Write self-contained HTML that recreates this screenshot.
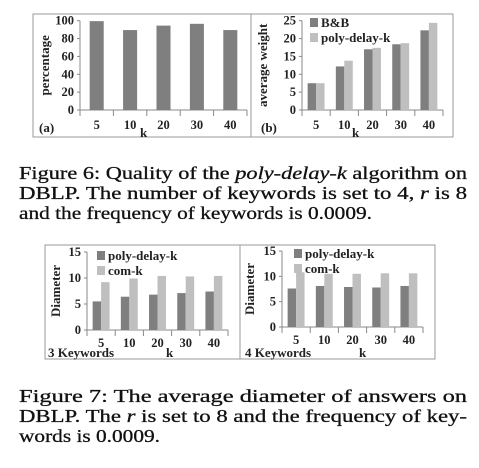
<!DOCTYPE html>
<html><head><meta charset="utf-8"><style>
html,body{margin:0;padding:0;background:#fff}
svg{display:block}
text{font-family:"Liberation Serif","DejaVu Serif",serif}
.ax{font-weight:bold;font-size:12.5px;fill:#222}
.cap{font-family:"Liberation Serif","DejaVu Serif",serif;font-size:18px;fill:#111;stroke:#111;stroke-width:0.3}
</style></head><body>
<svg id="s" width="479" height="468" viewBox="0 0 479 468">
<rect x="33" y="14" width="420" height="123" fill="none" stroke="#999"/>
<line x1="251" y1="14" x2="251" y2="137" stroke="#999"/>
<rect x="45" y="245" width="390" height="114" fill="none" stroke="#999"/>
<line x1="240" y1="245" x2="240" y2="359" stroke="#999"/>
<g id="charts"></g>
<g>
<text class="cap" x="19" y="179" textLength="448" lengthAdjust="spacingAndGlyphs">Figure 6: Quality of the <tspan font-style="italic">poly-delay-k</tspan> algorithm on</text>
<text class="cap" x="19" y="199" textLength="448" lengthAdjust="spacingAndGlyphs">DBLP. The number of keywords is set to 4, <tspan font-style="italic">r</tspan> is 8</text>
<text class="cap" x="19" y="219" textLength="353" lengthAdjust="spacingAndGlyphs">and the frequency of keywords is 0.0009.</text>
</g>
<g>
<text class="cap" x="19" y="402" textLength="448" lengthAdjust="spacingAndGlyphs">Figure 7: The average diameter of answers on</text>
<text class="cap" x="19" y="422" textLength="448" lengthAdjust="spacingAndGlyphs">DBLP. The <tspan font-style="italic">r</tspan> is set to 8 and the frequency of key-</text>
<text class="cap" x="19" y="442" textLength="141" lengthAdjust="spacingAndGlyphs">words is 0.0009.</text>
</g>
</svg>
<script>
const categories = ["5","10","20","30","40"];
const aValues = [99.5, 89.5, 94.5, 96.5, 89.5];
const aTicks = [0,20,40,60,80,100];
const bBB = [7.5, 12.2, 17.0, 18.4, 22.3];
const bPoly = [7.5, 13.8, 17.4, 18.7, 24.4];
const bTicks = [0,5,10,15,20,25];
const c3Poly = [5.5, 6.4, 6.8, 7.1, 7.4];
const c3Com = [9.2, 9.9, 10.4, 10.3, 10.4];
const c4Poly = [7.6, 8.1, 7.9, 7.8, 8.1];
const c4Com = [10.8, 10.5, 10.5, 10.6, 10.6];
const dTicks = [0,5,10,15];

const NS="http://www.w3.org/2000/svg";
const root=document.getElementById('charts');
function mk(tag,attrs,parent){const e=document.createElementNS(NS,tag);for(const k in attrs)e.setAttribute(k,attrs[k]);(parent||root).appendChild(e);return e;}
function txt(x,y,s,parent,extra){const t=mk('text',Object.assign({x:x,y:y,class:'ax'},extra||{}),parent);t.textContent=s;return t;}

function chart(o){
  const g=mk('g',{});
  
  
  const x0=o.x0,x1=o.x1,y0=o.y0,yT=o.yT,max=o.ticks[o.ticks.length-1];
  const ys=v=>y0-(v/max)*(y0-yT);
  const n=categories.length, band=(x1-x0)/n;
  const bx=i=>x0+band*i;
  const ya=mk('line',{x1:x0,y1:yT,x2:x0,y2:y0,stroke:'#888'},g);
  
  
  const xa=mk('line',{x1:x0,y1:y0,x2:x1,y2:y0,stroke:'#888'},g);
  
  
  o.ticks.forEach(t=>{
    mk('line',{x1:x0-3,y1:ys(t),x2:x0,y2:ys(t),stroke:'#888'},g);
    const l=txt(x0-6,ys(t)+4,String(t),g,{'text-anchor':'end'});
    
    
  });
  for(let i=0;i<=n;i++) mk('line',{x1:bx(i),y1:y0,x2:bx(i),y2:y0+6,stroke:'#888'},g);
  categories.forEach((c,i)=>{
    const l=txt(bx(i)+band/2,o.labY,c,g,{'text-anchor':'middle'});
    
    
  });
  const colors=['#7f7f7f','#bfbfbf'];
  o.series.forEach((s,si)=>{
    const ns=o.series.length;
    const bw=ns===1?band*0.42:band*0.3;
    s.forEach((v,i)=>{
      const x=ns===1?bx(i)+(band-bw)/2:bx(i)+band/2-bw+si*bw;
      const r=mk('rect',{x:x,y:ys(v),width:bw,height:y0-ys(v),fill:colors[si]},g);
      
      
    });
  });
  if(o.legend){o.legend.forEach((lab,si)=>{
    const lx=o.legX, ly=o.legY+si*15;
    const sq=mk('rect',{x:lx,y:ly-9,width:8,height:9,fill:colors[si]},g);
    
    
    const t=txt(lx+11,ly,lab,g,{style:'font-size:13px'});
    
    
  });}
  const yt=txt(0,0,o.ytitle,g,{'text-anchor':'middle',transform:`translate(${o.ytX},${(y0+yT)/2}) rotate(-90)`,style:'font-size:13px'});
  
  
  const kt=txt(o.kX,o.kY,'k',g,{style:'font-size:13px'});
  
  
  const pl=txt(o.pX,o.pY,o.panel,g,{style:'font-size:13px'});
  
  
}
chart({name:'chart-a',x0:80,x1:247,y0:110,yT:20.7,ticks:aTicks,series:[aValues],snames:['percentage'],labY:129,ytitle:'percentage',ytX:49,kX:140,kY:137,panel:'(a)',pX:39,pY:132});
chart({name:'chart-b',x0:302,x1:443,y0:110,yT:20.7,ticks:bTicks,series:[bBB,bPoly],snames:['bb','poly'],labY:129,legend:['B&B','poly-delay-k'],legX:310,legY:27,ytitle:'average  weight',ytX:267,kX:352,kY:137,panel:'(b)',pX:261,pY:132});
chart({name:'chart-3kw',x0:87,x1:228,y0:330,yT:252,ticks:dTicks,series:[c3Poly,c3Com],snames:['poly','com'],labY:347,legend:['poly-delay-k','com-k'],legX:97,legY:260,ytitle:'Diameter',ytX:60,kX:166,kY:357,panel:'3 Keywords',pX:48,pY:357});
chart({name:'chart-4kw',x0:282,x1:423,y0:327,yT:251,ticks:dTicks,series:[c4Poly,c4Com],snames:['poly','com'],labY:344,legend:['poly-delay-k','com-k'],legX:294,legY:258,ytitle:'Diameter',ytX:254,kX:359,kY:357,panel:'4 Keywords',pX:245,pY:357});
</script>
</body></html>
